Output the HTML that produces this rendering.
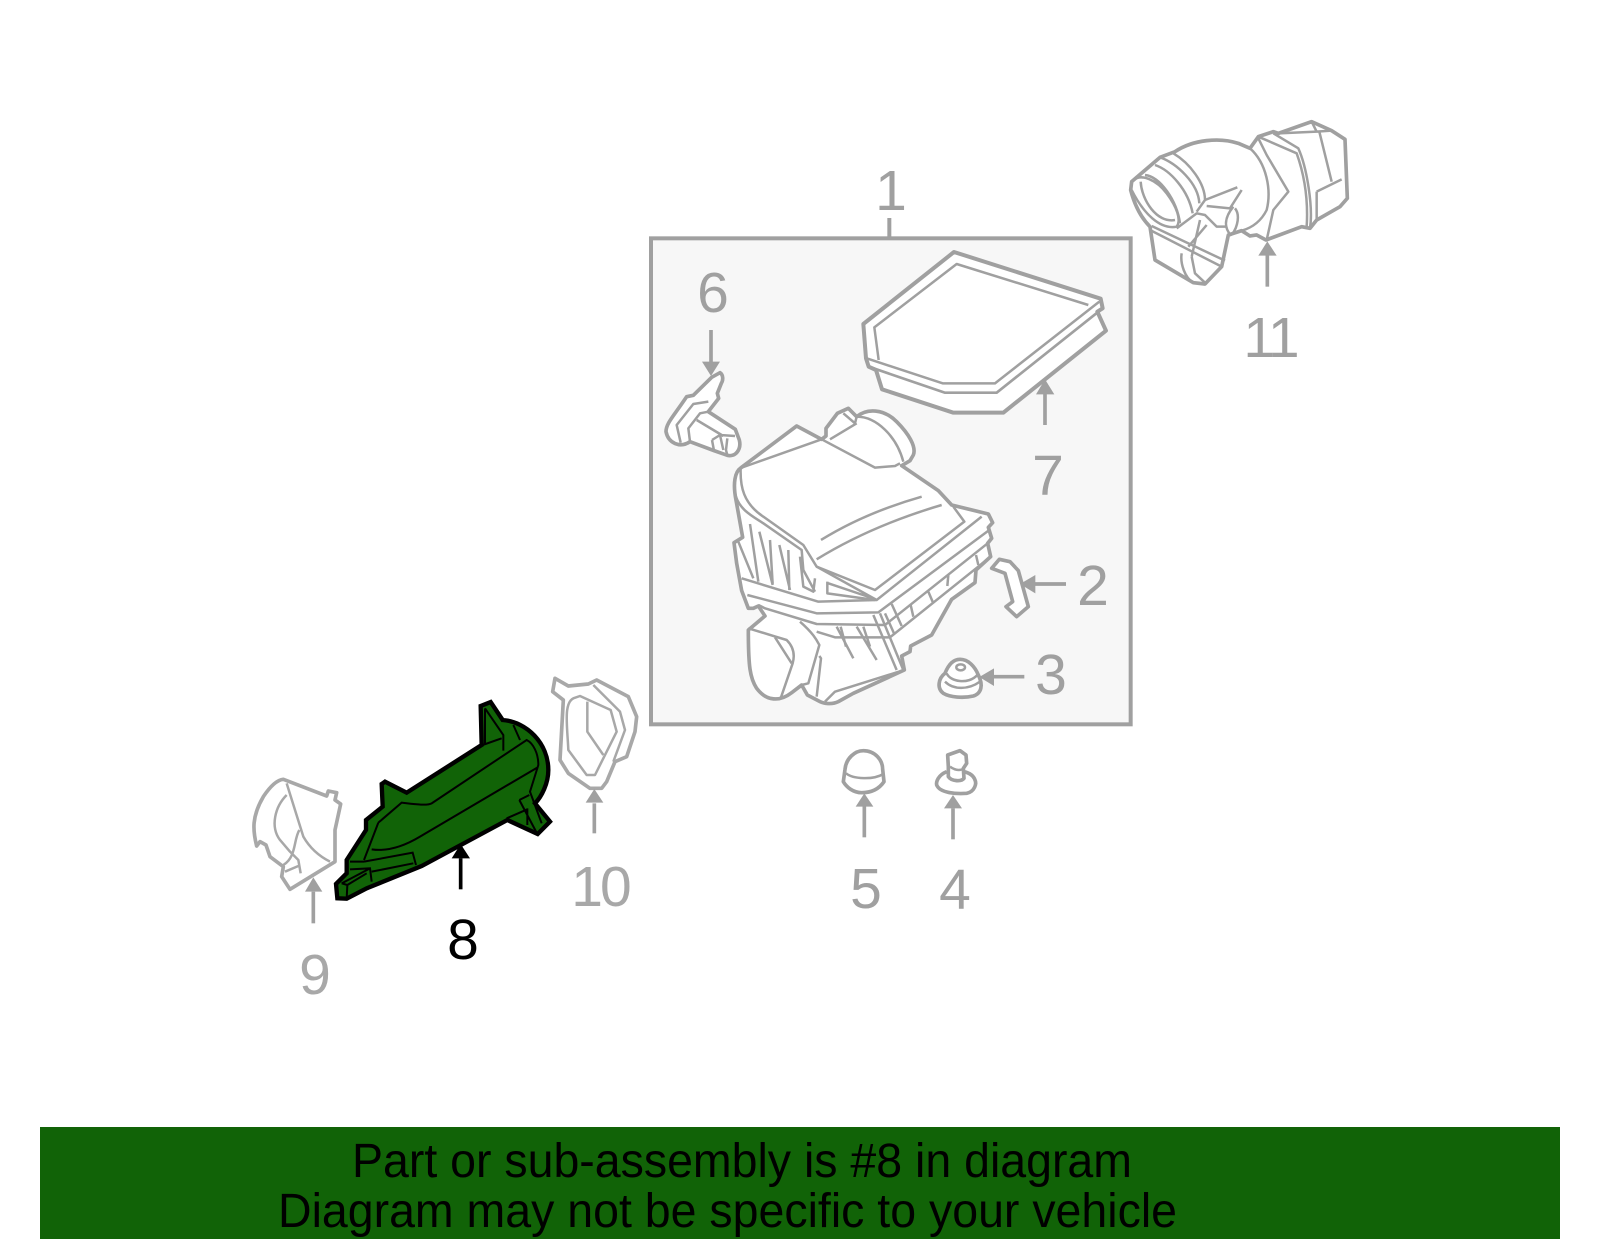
<!DOCTYPE html>
<html><head><meta charset="utf-8"><style>
html,body{margin:0;padding:0;background:#fff}
svg{display:block}
text{font-family:"Liberation Sans",sans-serif}
.n{font-size:57px;fill:#a0a0a0;text-anchor:middle}
.o{fill:#fff;stroke:#a0a0a0;stroke-width:11;stroke-linejoin:round}
.t{fill:none;stroke:#a0a0a0;stroke-width:7.5;stroke-linejoin:round}
.a{fill:#a0a0a0;stroke:none}
.s{stroke:#a0a0a0;stroke-width:11;fill:none}
</style></head><body>
<svg width="1600" height="1249" viewBox="0 0 1600 1249" xmlns="http://www.w3.org/2000/svg">
<rect width="1600" height="1249" fill="#fff"/>

<!-- box, filter, 6, 2, 3 -->
<g transform="translate(640,220) scale(.33333)">
<rect x="33" y="55" width="1439" height="1458" fill="#f7f7f7" stroke="#a0a0a0" stroke-width="12"/>
<line x1="748" y1="-6" x2="748" y2="55" stroke="#a0a0a0" stroke-width="12"/>
<!-- filter -->
<path class="o" style="stroke-width:12" d="M942,96 L1382,236 L1388,265 L1372,275 L1398,332 L1090,578 L940,578 L726,508 L708,450 L686,440 L678,415 L670,312 Z"/>
<path class="t" d="M1345,255 L950,132 L703,322 L716,420"/>
<path class="t" d="M680,415 L908,490 L1065,490 L1378,245"/>
<path class="t" style="stroke-width:8" d="M686,440 L914,518 L1070,518 L1388,265"/>
<!-- 6 -->
<path class="o" d="M240,458 C250,465 250,480 244,490 L232,520 L236,535 L205,575 L286,628 L298,660 C305,690 285,712 262,706 L222,692 L150,665 C120,685 85,670 78,635 C78,610 100,590 140,530 L160,526 L215,472 Z"/>
<path class="t" d="M205,545 L160,552 L110,615 L122,668 M150,665 L145,625 L180,580 L205,575 M170,600 L250,648 M216,660 L240,645 L285,648 M216,660 L222,692 M240,645 L250,690 M262,655 L258,690 L262,706"/>
<path class="s" d="M213,330 V430"/><path class="a" d="M186,425 L240,425 L213,468Z"/>
<path class="s" d="M1215,615 V520"/><path class="a" d="M1188,523 L1243,523 L1215,478Z"/>
<path class="s" d="M1278,1092 H1185"/><path class="a" d="M1186,1065 L1186,1120 L1140,1092Z"/>
<path class="s" d="M1153,1370 H1060"/><path class="a" d="M1062,1345 L1062,1398 L1018,1371Z"/>
<!-- 2 -->
<path class="o" d="M1055,1045 L1078,1018 L1110,1025 L1135,1052 L1165,1160 L1130,1190 L1098,1160 L1118,1145 L1095,1060 Z"/>
<!-- 3 -->
<path class="o" d="M960,1318 C985,1318 1005,1340 1015,1365 C1030,1395 1025,1420 1000,1428 C970,1435 930,1432 910,1420 C890,1405 895,1375 915,1360 C925,1335 940,1318 960,1318Z"/>
<path class="t" d="M920,1360 C930,1385 985,1395 1012,1365 M915,1385 C940,1410 985,1410 1020,1385"/>
<ellipse cx="962" cy="1342" rx="13" ry="9" class="t"/>
</g>

<!-- housing -->
<g transform="translate(720,400) scale(.33333)">
<path class="o" d="M62,204 L230,78 L305,118 L318,108 L318,85 L352,40 L385,25 L410,50 C440,25 490,25 530,65 C565,100 590,140 580,165 L570,182 L545,197 L655,272 L695,315 L805,342 L818,368 L805,382 L815,415 L803,430 L812,470 L768,510 L765,548 L695,598 L635,705 L572,738 L570,755 L545,768 L553,810 L400,880 L355,905 C335,915 310,910 300,905 L262,885 L245,855 L215,878 C180,905 140,905 110,865 C90,835 85,800 85,690 L135,648 L115,618 L100,625 L85,625 L65,572 L50,490 L42,428 L68,412 L48,300 C38,250 45,215 62,204Z"/>
<path class="t" d="M62,204 L305,118 L465,203 L525,198 L540,190 M330,118 L410,70 M385,25 L410,50 L405,70 L370,40 M410,50 C470,50 530,110 550,185 M62,204 C60,260 70,310 130,350 L250,435 L290,500 L465,570 L733,365 L700,320"/>
<path class="t" d="M303,420 C400,360 500,320 605,290 M290,478 C400,410 530,355 665,315"/>
<path class="t" d="M48,290 C60,330 100,350 130,370 L245,450 L250,510 L285,575 M90,372 L115,545 M118,395 L158,555 M150,420 L158,552 M178,435 L210,570 M205,450 L208,570 M240,470 L250,560 L280,575 L285,535 M322,545 L322,580 L465,600 M325,550 L465,597 M55,425 L100,535 M290,500 L470,600"/>
<path class="t" d="M65,535 L295,605 L470,600 L785,350 M82,585 L290,640 L475,637 L808,390 M115,615 L135,625 L290,672 L495,675 L803,430 M290,695 L345,712 L510,712 L812,470"/>
<path class="t" d="M460,645 L530,810 M480,640 L550,810 M495,640 L522,700 M350,680 L400,775 M362,680 L378,740 M410,680 L470,780 M430,680 L450,740 M515,612 L545,678 M572,615 L580,650 M625,575 L640,610 M685,525 L682,558 M768,465 L775,495"/>
<path class="t" d="M85,685 L200,720 C220,740 225,765 218,790 L182,895 M165,712 L215,790 M240,665 C280,700 290,720 298,735 L265,850 L245,855 M298,768 L303,775 L290,890 M315,905 L345,875 L553,810"/>
</g>

<!-- 9, 8, 10 -->
<g transform="translate(240,660) scale(.33333)">
<path class="o" style="stroke:#a8a8a8" d="M130,358 L260,408 L265,393 L290,398 L285,420 L302,432 L285,510 L285,605 L150,688 L125,650 L130,620 L90,590 L78,555 L60,545 L50,558 C38,510 35,470 70,410 C90,380 110,360 130,358Z"/>
<path class="t" style="stroke:#a8a8a8" d="M140,370 L190,530 C210,565 240,590 270,605 M140,405 C105,440 90,500 120,540 L150,575 L175,600 L182,640 M178,510 C160,540 170,590 130,615 M135,635 L175,618"/>
<path class="s" d="M220,790 V695"/><path class="a" d="M195,695 L247,695 L220,652Z"/>

<path fill="#116307" stroke="#000" stroke-width="13" stroke-linejoin="miter" d="M722,138 L752,126 L788,180 C860,185 925,250 925,330 C925,370 905,410 885,430 L930,485 L893,522 L802,480 L545,618 L380,685 L320,716 L292,715 L288,672 L320,640 L320,600 L378,510 L378,480 L428,440 L425,372 L435,365 L500,398 L725,255 Z"/>
<path fill="none" stroke="#000" stroke-width="6" d="M735,145 L790,225 L790,272 M735,145 L735,250 M728,255 L785,235 M415,488 L485,428 C520,432 560,438 575,430 L860,240 C880,250 895,280 895,315 L870,395 L905,490 M415,488 L372,600 M820,195 L840,240 M395,568 C440,575 490,560 540,530 L893,322 M372,605 L518,578 L528,615 M330,605 L372,605 M330,628 L390,625 L395,665 M395,635 L520,610 M305,670 L390,625 M305,670 L322,675 L320,716 M322,675 L380,640 M838,420 L868,405 M838,420 L892,522 M862,445 L862,495 M800,475 L862,448"/>
<path d="M662,688 V595" stroke="#000" stroke-width="11" fill="none"/><path d="M635,595 L690,595 L662,552Z" fill="#000"/>

<path class="o" style="stroke:#a8a8a8" d="M945,55 L985,78 L1045,72 L1070,60 L1165,110 L1190,170 L1185,215 L1160,290 L1125,305 L1100,365 L1085,385 L1050,385 L985,340 L960,300 L970,120 L938,95Z"/>
<path class="t" style="stroke:#a8a8a8" d="M1000,115 C970,130 982,200 985,270 L1040,345 L1065,345 L1130,215 L1112,150 L1020,108Z M1042,125 L1042,215 L1090,285 M1060,75 L1140,155 L1155,210 L1120,305"/>
<path class="s" d="M1063,520 V430"/><path class="a" d="M1037,428 L1090,428 L1063,387Z"/>
</g>

<!-- 11 -->
<g transform="translate(1110,100) scale(.33333)">
<path class="o" d="M65,245 L150,172 L195,155 C250,118 330,112 385,130 L420,145 L445,110 L490,95 L505,100 L605,65 L665,92 L705,118 L712,295 L690,320 L620,360 L600,385 L575,380 L468,420 L440,405 L420,408 L395,392 L355,405 L335,500 L285,552 L250,548 L135,480 L120,380 C95,355 75,320 62,270Z"/>
<path class="t" d="M65,270 C100,340 150,390 200,380 C215,360 200,320 170,280 C140,240 95,220 70,240 M92,245 C95,300 140,370 195,360 M105,225 C150,230 200,300 210,370 M135,195 C180,210 235,270 248,340 M150,172 C200,190 265,250 268,310 M190,160 C240,190 285,250 285,300 L260,335"/>
<path class="t" d="M285,300 L382,262 M290,318 L360,325 L395,270 M375,325 C395,350 375,400 362,405 C340,380 345,350 370,320 M120,390 L335,500 M125,378 L345,482 M200,385 L260,340 L285,345 L320,380 L350,380 M215,460 C210,490 225,535 250,548 M245,470 L255,520 L285,548 M290,375 L235,440 M270,360 L245,470"/>
<path class="t" d="M420,145 C470,190 485,270 470,330 C450,370 420,385 395,392 M470,420 L490,330 L535,275 L470,165 L445,115 M490,100 L565,145 C590,200 610,320 600,385 M445,110 L560,160 C585,230 595,300 590,380 M628,95 L665,245 M620,275 L695,238 M605,65 L620,95 L665,92 M505,100 L620,95 M620,275 L620,360"/>
<path class="s" d="M472,560 V465"/><path class="a" d="M445,467 L500,467 L472,424Z"/>
</g>

<!-- 5, 4 -->
<g transform="translate(820,730) scale(.33333)">
<path class="o" d="M75,118 C78,85 105,62 130,62 C165,62 188,90 188,118 L192,155 C175,180 150,188 125,188 C100,188 80,172 70,155Z"/>
<path class="t" d="M78,130 C100,148 160,150 190,132"/>
<path class="o" d="M380,125 C355,135 348,155 350,165 C360,190 410,192 440,190 C465,185 470,160 465,150 C460,135 445,128 432,125"/>
<path class="o" d="M383,75 L420,62 L438,75 L440,100 L430,115 L432,145 C425,155 395,155 385,140 L385,110 Z"/>
<path class="t" d="M390,110 C410,125 425,120 432,115"/>
<path class="s" d="M133,322 V228"/><path class="a" d="M107,230 L160,230 L133,190Z"/>
<path class="s" d="M399,328 V235"/><path class="a" d="M372,235 L426,235 L399,195Z"/>
</g>

<!-- labels -->
<text class="n" x="891" y="210">1</text>
<text class="n" x="1093" y="605">2</text>
<text class="n" x="1051" y="694">3</text>
<text class="n" x="955" y="909">4</text>
<text class="n" x="866" y="908">5</text>
<text class="n" x="713" y="312">6</text>
<text class="n" x="1048" y="495">7</text>
<text class="n" x="463" y="959" style="fill:#000">8</text>
<text class="n" x="315" y="994" style="fill:#a8a8a8">9</text>
<text class="n" x="600" y="906" style="fill:#a8a8a8;letter-spacing:-3px">10</text>
<text class="n" x="1270" y="357" style="letter-spacing:-3px">11</text>

<!-- band -->
<rect x="40" y="1127" width="1520" height="112" fill="#116307"/>
<text x="352" y="1177" font-size="48" fill="#000" textLength="780" lengthAdjust="spacingAndGlyphs">Part or sub-assembly is #8 in diagram</text>
<text x="278" y="1227" font-size="48" fill="#000" textLength="899" lengthAdjust="spacingAndGlyphs">Diagram may not be specific to your vehicle</text>
</svg>
</body></html>
